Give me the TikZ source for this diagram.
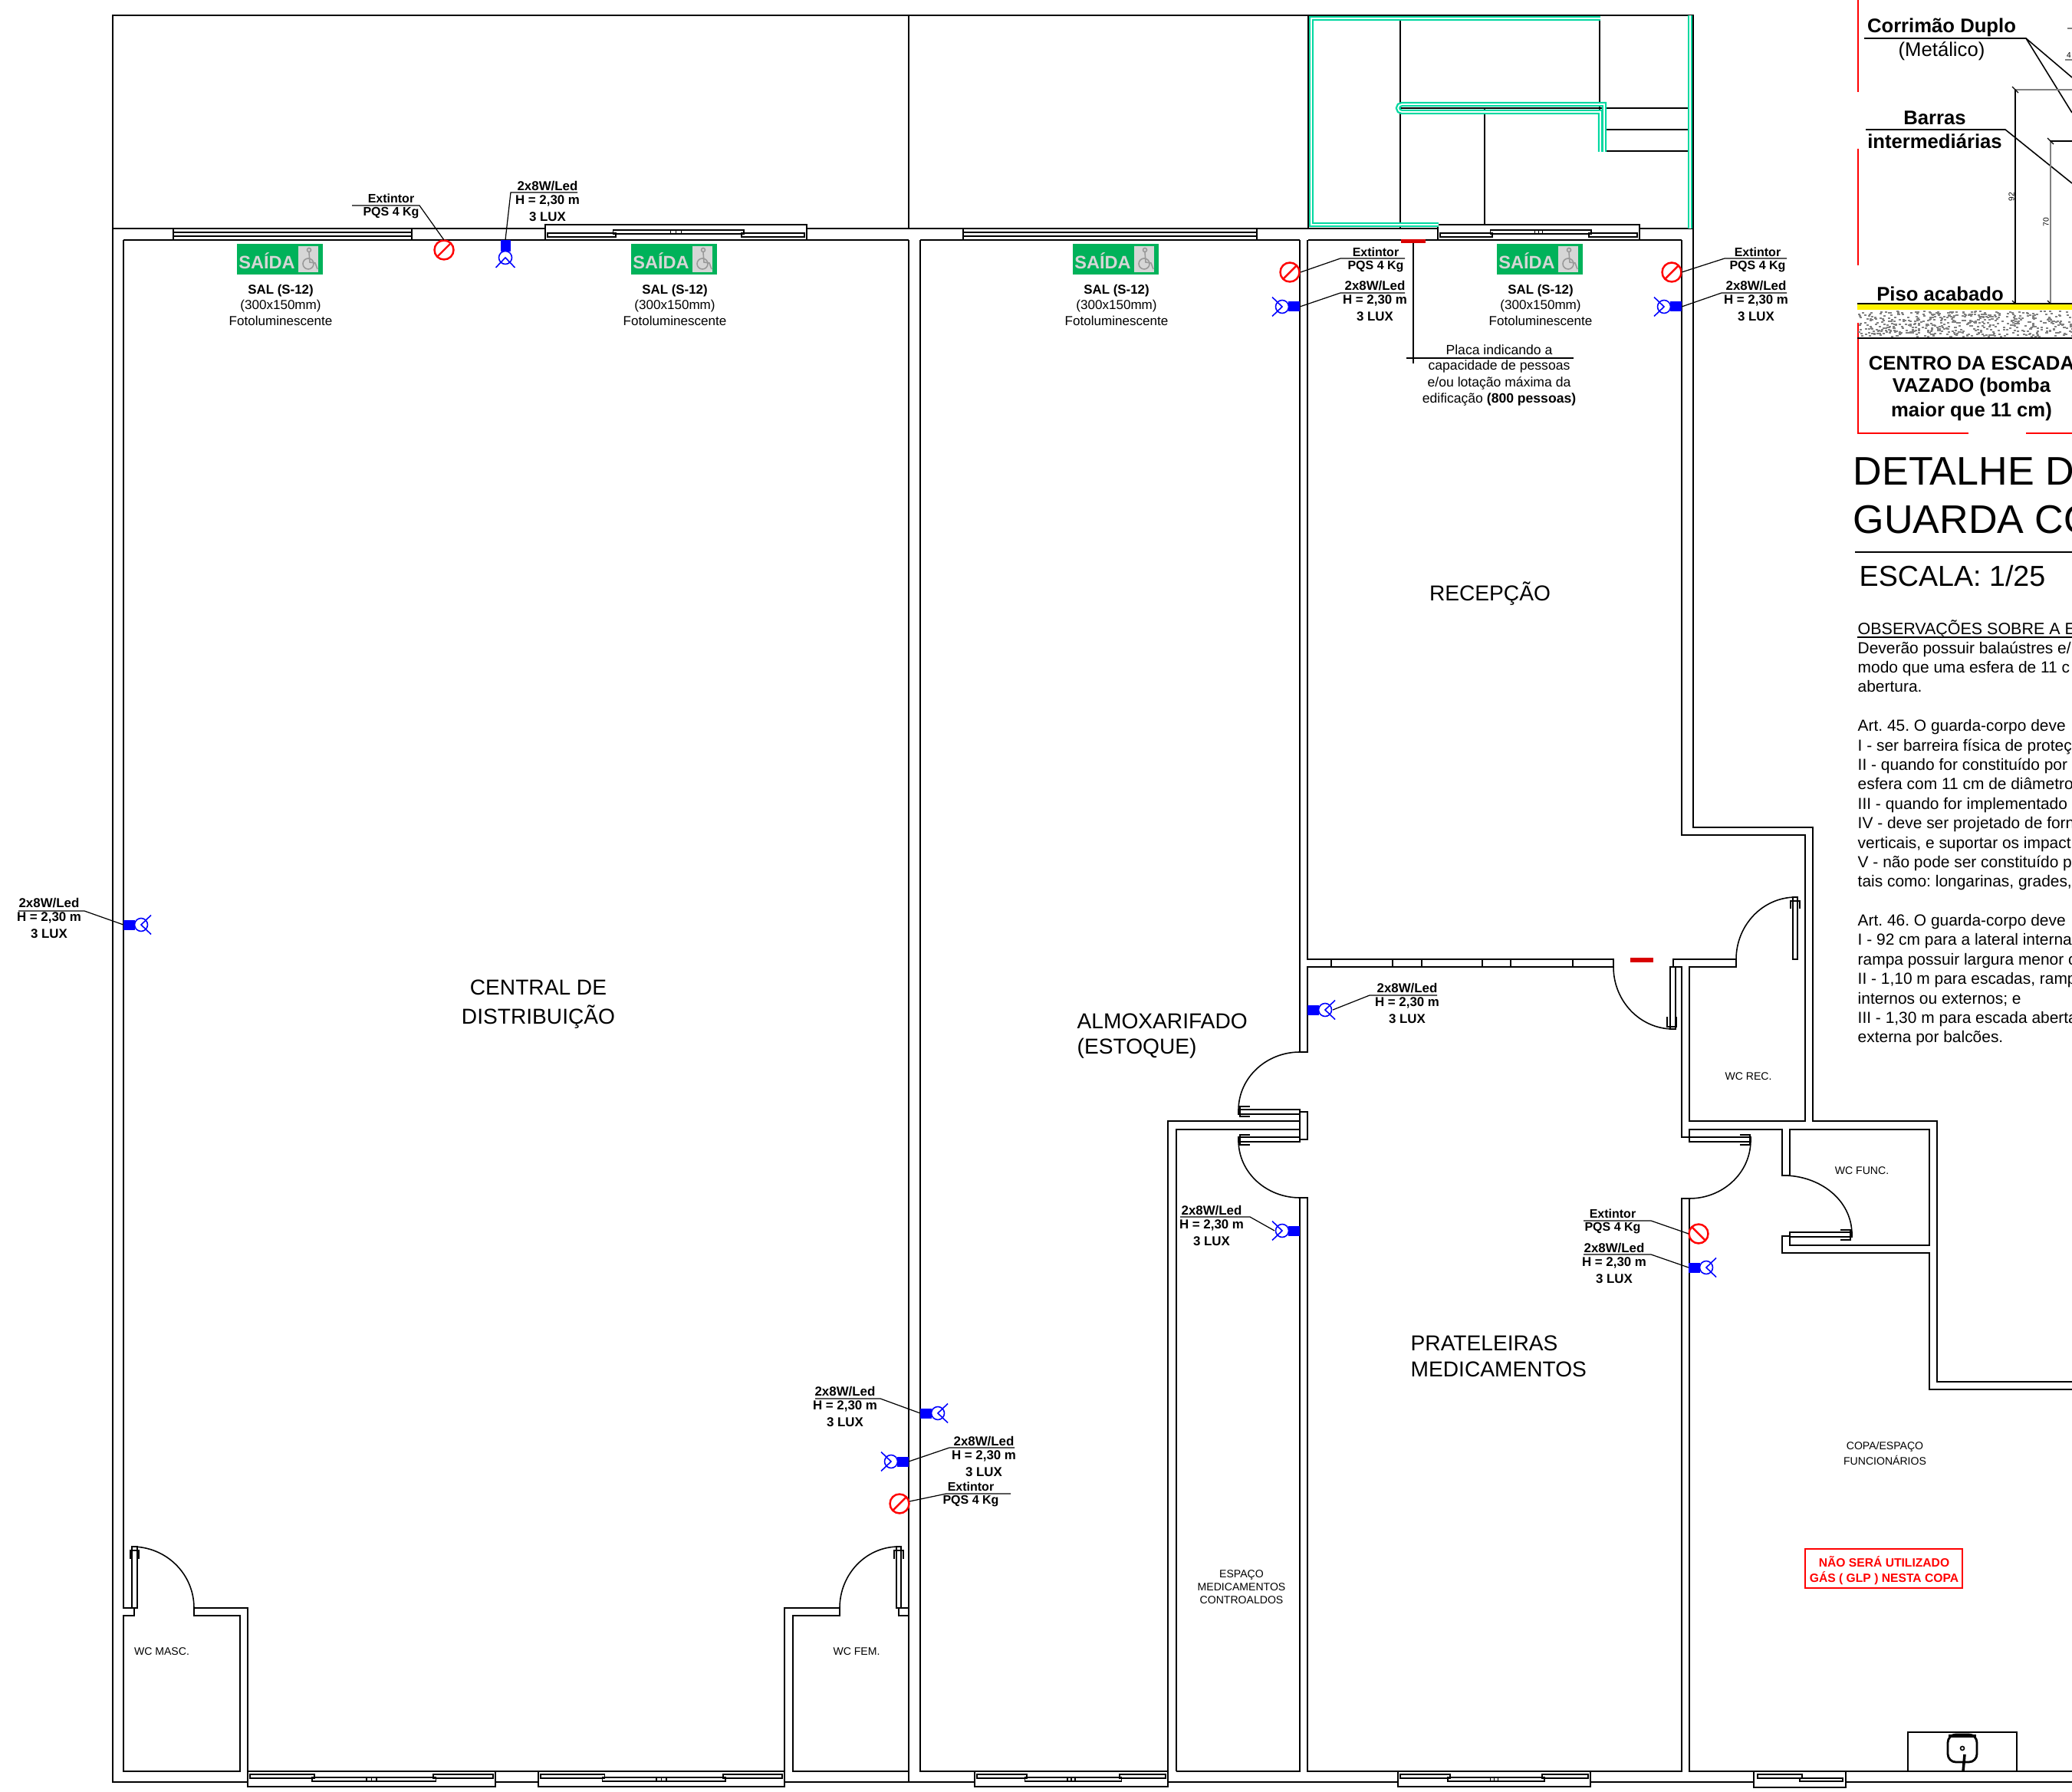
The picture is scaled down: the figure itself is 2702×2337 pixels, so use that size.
\documentclass[tikz,border=0pt]{standalone}
\usepackage{fontspec}
\setmainfont{Liberation Sans}
\definecolor{verdeguarda}{RGB}{0,216,160}
\definecolor{verdeplaca}{RGB}{0,178,90}
\definecolor{cinzaplaca}{RGB}{214,214,214}
\tikzset{
parede/.style={line width=0.8pt},
fino/.style={line width=0.45pt},
fio/.style={line width=0.35pt},
guarda/.style={draw=verdeguarda,double=white,line width=0.65pt,double distance=0.5pt},
rotulo/.style={inner sep=0pt,font=\fontsize{4.8pt}{5.8pt}\selectfont\bfseries},
rotext/.style={inner sep=0pt,font=\fontsize{4.55pt}{5.8pt}\selectfont\bfseries},
fino txt/.style={inner sep=0pt,font=\fontsize{4.85pt}{5.8pt}\selectfont},
placatxt/.style={inner sep=0pt,font=\fontsize{5pt}{6pt}\selectfont},
sala/.style={inner sep=0pt,font=\fontsize{8pt}{9pt}\selectfont},
wc/.style={inner sep=0pt,font=\fontsize{4pt}{5pt}\selectfont},
grande/.style={inner sep=0pt,font=\fontsize{7.3pt}{9pt}\selectfont\bfseries},
lampada/.pic={
  \fill[blue] (0,-6.5) rectangle (15,6.5);
  \draw[blue,fino] (23,0) circle [radius=8.5];
  \draw[blue,fino] (36,-12.5) -- (23,0) -- (36,12.5);
},
extintor/.pic={
  \draw[red,line width=0.7pt] (0,0) circle [radius=12.5];
  \draw[red,line width=0.7pt] (-9,9) -- (9,-9);
}
}
\newcommand{\correr}[4]{%
\begin{scope}[shift={(#1,#3)},yscale=#4]
\pgfmathsetmacro\wj{#2-#1}
\draw[parede] (0,0) -- (0,14) (\wj,0) -- (\wj,14);
\draw[fino] (0,14) -- (0,20) -- (\wj,20) -- (\wj,14);
\draw[fino] (3,4) rectangle (.27*\wj,9);
\draw[fino] (.26*\wj,8) rectangle (.76*\wj,13);
\draw[fino] (.75*\wj,4) rectangle (\wj-3,9);
\draw[fio] (.48*\wj,8) -- (.48*\wj,13) (.5*\wj,8) -- (.5*\wj,13) (.52*\wj,8) -- (.52*\wj,13);
\end{scope}}
\newcommand{\fixa}[2]{%
\draw[parede] (#1,298) -- (#1,313) (#2,298) -- (#2,313);
\draw[fino] (#1,303) -- (#2,303) (#1,308) -- (#2,308);}
\newcommand{\placa}[2]{%
\fill[verdeplaca] (#2-56,318) rectangle (#2+56,358);
\fill[cinzaplaca] (#2+24,321) rectangle (#2+50,355);
\draw[gray!80,fino] (#2+38,326) circle [radius=2.5];
\draw[gray!80,fino] (#2+38,329) -- (#2+39,342) -- (#2+46,343) -- (#2+49,351);
\draw[gray!80,fino] (#2+37,344) circle [radius=7];
\node[inner sep=0pt,text=cinzaplaca,font=\fontsize{6.7pt}{8pt}\selectfont\bfseries] (#1) at (#2-17,340) {SAÍDA};
\node[rotulo] (#1a) at (#2+1,379.5) {SAL (S-12)};
\node[fino txt] (#1b) at (#2+1,399.5) {(300x150mm)};
\node[fino txt] (#1c) at (#2+1,418.5) {Fotoluminescente};}
\newcommand{\luxo}[3]{%
\node[rotulo] (#1a) at (#2,#3+1) {2x8W/Led};
\node[rotulo] (#1b) at (#2,#3+20) {H = 2,30 m};
\node[rotulo] (#1c) at (#2,#3+41) {3 LUX};}
\newcommand{\ext}[3]{%
\node[rotext] (#1a) at (#2,#3) {Extintor};
\node[rotext] (#1b) at (#2,#3+19) {PQS 4 Kg};}

\begin{document}
\begin{tikzpicture}[x=0.01cm,y=-0.01cm]
\useasboundingbox (0,0) rectangle (2702,2337);
\clip (0,0) rectangle (2702,2337);
% paredes externas
\draw[parede] (2702,1802) -- (2526,1802) -- (2526,1462) -- (2364,1462) -- (2364,1079) -- (2208,1079) -- (2208,20) -- (147,20) -- (147,2324) -- (323,2324);
\draw[parede] (646,2324) -- (702,2324);
\draw[parede] (1023,2324) -- (1271,2324);
\draw[parede] (1523,2324) -- (1823,2324);
\draw[parede] (2074,2324) -- (2287,2324);
\draw[parede] (2407,2324) -- (2702,2324);
\draw[parede] (147,298) -- (711,298);
\draw[parede] (1052,298) -- (1875,298);
\draw[parede] (2138,298) -- (2208,298);
\draw[parede] (161,313) -- (1185,313);
\draw[parede] (1200,313) -- (1695,313);
\draw[parede] (1706,313) -- (2193,313);
\draw[parede] (1185,20) -- (1185,298);
\draw[parede] (1185,313) -- (1185,2324);
\draw[parede] (1200,313) -- (1200,2310) -- (1523,2310) -- (1523,1462) -- (1695,1462);
\draw[parede] (1534,2310) -- (1534,1473) -- (1695,1473);
\draw[parede] (1534,2310) -- (1695,2310) -- (1695,1562) -- (1705,1562) -- (1705,2310) -- (2193,2310) -- (2193,1563) -- (2203,1563) -- (2203,2310) -- (2702,2310);
\draw[parede] (161,313) -- (161,2097) -- (175,2097) -- (175,2107) -- (161,2107) -- (161,2310) -- (313,2310) -- (313,2107) -- (253,2107) -- (253,2097) -- (323,2097) -- (323,2310) -- (1023,2310) -- (1023,2097) -- (1095,2097) -- (1095,2107) -- (1034,2107) -- (1034,2310) -- (1185,2310);
\draw[parede] (1185,2097) -- (1172,2097) -- (1172,2107) -- (1185,2107);
\draw[parede] (1695,313) -- (1695,1372) -- (1705,1372) -- (1705,1261) -- (2104,1261) -- (2104,1251) -- (1705,1251) -- (1705,313);
\draw[parede] (1695,1450) rectangle (1705,1486);
\draw[fino] (1736,1251) -- (1736,1261) (1816,1251) -- (1816,1261) (1854,1251) -- (1854,1261) (1933,1251) -- (1933,1261) (1970,1251) -- (1970,1261) (2051,1251) -- (2051,1261);
\draw[parede] (2193,313) -- (2193,1089) -- (2354,1089) -- (2354,1462) -- (2203,1462) -- (2203,1261) -- (2264,1261) -- (2264,1251) -- (2182,1251) -- (2182,1261) -- (2193,1261) -- (2193,1483) -- (2203,1483) -- (2203,1473) -- (2324,1473) -- (2324,1533) -- (2334,1533) -- (2334,1473) -- (2516,1473) -- (2516,1624) -- (2334,1624) -- (2334,1612) -- (2324,1612) -- (2324,1634) -- (2516,1634) -- (2516,1812) -- (2702,1812);
% janelas
\fixa{226}{537}
\fixa{1256}{1639}
\correr{711}{1052}{313}{-1}
\correr{1875}{2138}{313}{-1}
\correr{323}{646}{2310}{1}
\correr{702}{1023}{2310}{1}
\correr{1271}{1523}{2310}{1}
\correr{1823}{2074}{2310}{1}
\draw[parede] (2287,2310) -- (2287,2324) (2407,2310) -- (2407,2324);
\draw[fino] (2287,2324) -- (2287,2331) -- (2407,2331) -- (2407,2324);
\draw[fino] (2292,2314) rectangle (2350,2319);
\draw[fino] (2347,2319) rectangle (2403,2323);
% portas
\draw[fino] (172,2017) rectangle (179,2097);
\draw[fino] (170,2033) -- (170,2022) -- (181,2022) -- (181,2033);
\draw[fino] (172,2017) to [out=0, in=90] (253,2097);
\draw[fino] (1169,2017) rectangle (1175,2097);
\draw[fino] (1166,2033) -- (1166,2022) -- (1178,2022) -- (1178,2033);
\draw[fino] (1172,2017) to [out=180, in=90] (1095,2097);
\draw[fino] (2178,1261) rectangle (2185,1342);
\draw[fino] (2174,1326) -- (2174,1339) -- (2186,1339) -- (2186,1326);
\draw[fino] (2104,1261) to [out=-90, in=180] (2182,1342);
\draw[fino] (2338,1170) rectangle (2344,1251);
\draw[fino] (2335,1185) -- (2335,1175) -- (2347,1175) -- (2347,1185);
\draw[fino] (2342,1170) to [out=180, in=90] (2264,1251);
\draw[fino] (1615,1447) rectangle (1695,1453);
\draw[fino] (1630,1443) -- (1617,1443) -- (1617,1456) -- (1630,1456);
\draw[fino] (1695,1372) to [out=180, in=90] (1615,1448);
\draw[fino] (1615,1483) rectangle (1695,1489);
\draw[fino] (1630,1480) -- (1617,1480) -- (1617,1493) -- (1630,1493);
\draw[fino] (1695,1562) to [out=180, in=-90] (1615,1487);
\draw[fino] (2203,1483) rectangle (2283,1489);
\draw[fino] (2269,1480) -- (2282,1480) -- (2282,1493) -- (2269,1493);
\draw[fino] (2203,1563) to [out=0, in=-90] (2283,1487);
\draw[fino] (2334,1607) rectangle (2415,1613);
\draw[fino] (2400,1604) -- (2413,1604) -- (2413,1617) -- (2400,1617);
\draw[fino] (2326,1533) to [out=0, in=90] (2415,1610);
% escada
\draw[parede] (1706,20) -- (1706,298);
\draw[parede] (1826,20) -- (1826,298);
\draw[parede] (2086,20) -- (2086,197);
\draw[parede] (1936,141) -- (1936,293);
\draw[parede] (1826,141) -- (2204,141);
\draw[parede] (2090,169) -- (2204,169);
\draw[fino] (2092,197) -- (2204,197);
\draw[guarda] (2087,24) -- (1710,24) -- (1710,293) -- (1876,293);
\draw[guarda] (2204,20) -- (2204,298);
\draw[guarda] (2087,198) -- (2087,146) -- (1828,146) arc (90:270:5) -- (2092,136) -- (2092,198);
% copa
\draw[fino] (2488,2310) -- (2488,2259) -- (2630,2259) -- (2630,2310);
\draw[parede,rounded corners=3] (2540,2262) rectangle (2578,2298);
\draw[line width=1.2pt] (2541,2264) -- (2577,2264);
\draw[fino] (2559,2280) circle [radius=2.5];
\draw[line width=1pt] (2562,2288) -- (2560,2310);
% placas
\placa{sa}{365}
\placa{sb}{879}
\placa{sc}{1455}
\placa{sd}{2008}
\fill[red!85!black] (1827,312) rectangle (1859,317);
\fill[red!85!black] (2126,1249) rectangle (2156,1255);
\coordinate (pl) at (1843,317);
\draw[fino] (pl) -- (1843,474);
\draw[fino] (1834,467) -- (2052,467);
\node[placatxt] (pa) at (1955,456.5) {Placa indicando a};
\node[placatxt] (pb) at (1955,478) {capacidade de pessoas};
\node[placatxt] (pc) at (1955,499.5) {e/ou lotação máxima da};
\node[placatxt] (pd) at (1955,521) {edificação \textbf{(800 pessoas)}};
% extintores
\pic at (579,326) {extintor};
\pic at (1682,355) {extintor};
\pic at (2180,355) {extintor};
\pic[rotate=-90] at (2215,1609) {extintor};
\pic at (1173,1961) {extintor};
\ext{ea}{510}{259}
\ext{eb}{1794}{329}
\ext{ec}{2292}{329}
\ext{ed}{2103}{1583}
\ext{ee}{1266}{1939}
\draw[fio] (579,313) -- (547,268) -- (459,268);
\draw[fio] (1696,355) -- (1748,337) -- (1832,337);
\draw[fio] (2193,355) -- (2249,337) -- (2330,337);
\draw[fio] (2202,1609) -- (2153,1592) -- (2065,1592);
\draw[fio] (1186,1958) -- (1234,1948) -- (1318,1948);
% luminarias
\coordinate (la) at (161,1206);
\coordinate (lb) at (659,313);
\coordinate (lc) at (1695,400);
\coordinate (ld) at (2193,400);
\coordinate (le) at (1705,1317);
\coordinate (lf) at (1695,1605);
\coordinate (lg) at (2202,1653);
\coordinate (lh) at (1200,1843);
\coordinate (li) at (1185,1906);
\pic at (la) {lampada};
\pic[rotate=-90] at (lb) {lampada};
\pic[rotate=180] at (lc) {lampada};
\pic[rotate=180] at (ld) {lampada};
\pic at (le) {lampada};
\pic[rotate=180] at (lf) {lampada};
\pic at (lg) {lampada};
\pic at (lh) {lampada};
\pic[rotate=180] at (li) {lampada};
\luxo{xa}{64}{1177}
\luxo{xb}{714}{242}
\luxo{xc}{1793}{372}
\luxo{xd}{2290}{372}
\luxo{xe}{1835}{1288}
\luxo{xf}{1580}{1578}
\luxo{xg}{2105}{1627}
\luxo{xh}{1102}{1814}
\luxo{xi}{1283}{1879}
\draw[fio] (la) -- (110,1188) -- (24,1188);
\draw[fio] (lb) -- (666,251) -- (753,251);
\draw[fio] (lc) -- (1748,382) -- (1832,382);
\draw[fio] (ld) -- (2245,382) -- (2330,382);
\draw[fio] (1738,1317) -- (1786,1298) -- (1874,1298);
\draw[fio] (1662,1605) -- (1630,1587) -- (1539,1587);
\draw[fio] (lg) -- (2153,1636) -- (2065,1636);
\draw[fio] (lh) -- (1148,1824) -- (1063,1824);
\draw[fio] (li) -- (1238,1888) -- (1323,1888);
% salas
\node[sala] (cd) at (702,1288) {CENTRAL DE};
\node[sala] (ds) at (702,1326) {DISTRIBUIÇÃO};
\node[sala] (rc) at (1943,774) {RECEPÇÃO};
\node[sala,anchor=west] (am) at (1404,1332) {ALMOXARIFADO};
\node[sala,anchor=west] (es) at (1404,1367) {(ESTOQUE)};
\node[sala,anchor=west] (pr) at (1839,1752) {PRATELEIRAS};
\node[sala,anchor=west] (me) at (1839,1786) {MEDICAMENTOS};
\node[wc] (wa) at (211,2154) {WC MASC.};
\node[wc] (wb) at (1117,2154) {WC FEM.};
\node[wc] (wr) at (2280,1404) {WC REC.};
\node[wc] (wf) at (2428,1527) {WC FUNC.};
\node[wc] (ea1) at (1619,2054) {ESPAÇO};
\node[wc] (ea2) at (1619,2070) {MEDICAMENTOS};
\node[wc] (ea3) at (1619,2087) {CONTROALDOS};
\node[wc] (co) at (2458,1887) {COPA/ESPAÇO};
\node[wc] (fu) at (2458,1904) {FUNCIONÁRIOS};
\draw[red,parede] (2354,2020) rectangle (2559,2071);
\node[rotulo,text=red,font=\fontsize{4.45pt}{5.5pt}\selectfont\bfseries] (na) at (2457,2037) {NÃO SERÁ UTILIZADO};
\node[rotulo,text=red,font=\fontsize{4.45pt}{5.5pt}\selectfont\bfseries] (nb) at (2457,2058) {GÁS ( GLP ) NESTA COPA};
% detalhe do guarda corpo
\draw[red,fino] (2423,0) -- (2423,120);
\draw[red,fino] (2423,194) -- (2423,346);
\draw[red,fino] (2423,421) -- (2423,565) -- (2567,565);
\draw[red,fino] (2642,565) -- (2702,565);
\node[grande] (cm) at (2532,36) {Corrimão Duplo};
\node[inner sep=0pt,font=\fontsize{7.3pt}{9pt}\selectfont] (mt) at (2532,67) {(Metálico)};
\draw[fino] (2431,50) -- (2642,50) -- (2702,101);
\draw[fino] (2642,50) -- (2702,147);
\node[grande] (ba) at (2523,154) {Barras};
\node[grande] (bi) at (2523,184) {intermediárias};
\draw[fino] (2433,169) -- (2615,169) -- (2702,239);
\draw[fio] (2628,396) -- (2628,117);
\draw[gray,fio] (2628,117) -- (2702,117);
\draw[fio] (2624,113) -- (2632,121) (2624,392) -- (2632,400);
\draw[gray,fino] (2674,396) -- (2674,184);
\draw[fio] (2674,184) -- (2702,184);
\draw[fio] (2670,180) -- (2678,188) (2670,392) -- (2678,400);
\node[inner sep=0pt,rotate=90,font=\fontsize{2.9pt}{3.5pt}\selectfont] (n92) at (2623,257) {92};
\node[inner sep=0pt,rotate=90,font=\fontsize{2.9pt}{3.5pt}\selectfont] (n70) at (2668,290) {70};
\node[inner sep=0pt,font=\fontsize{2.9pt}{3.5pt}\selectfont] (n4) at (2698,72) {4};
\draw[gray,fio] (2693,78) -- (2702,78);
\draw[gray,fio] (2696,37) -- (2702,37);
\node[grande] (pa1) at (2530,383) {Piso acabado};
\pgfmathsetseed{7}
\foreach \i in {1,...,520}{
\pgfmathsetmacro\px{2423+rnd*279}
\pgfmathsetmacro\py{405+rnd*33}
\fill[gray] (\px,\py) rectangle +(3,2);
}
\fill[yellow] (2422,397) rectangle (2702,404);
\draw[parede] (2422,396) -- (2702,396);
\draw[parede] (2422,441) -- (2702,441);
\node[grande] (ca) at (2571,474) {CENTRO DA ESCADA};
\node[grande] (cb) at (2571,505) {VAZADO (bomba};
\node[grande] (cc) at (2571,537) {maior que 11 cm)};
\node[inner sep=0pt,anchor=west,font=\fontsize{14.8pt}{17pt}\selectfont] (ta) at (2416,615) {DETALHE D};
\node[inner sep=0pt,anchor=west,font=\fontsize{14.8pt}{17pt}\selectfont] (tb) at (2416,678) {GUARDA CO};
\draw[fino] (2419,720) -- (2702,720);
\node[inner sep=0pt,anchor=west,font=\fontsize{10.7pt}{12pt}\selectfont] (te) at (2424,751) {ESCALA: 1/25};
\node[inner sep=0pt,anchor=west,font=\fontsize{6.1pt}{7pt}\selectfont] (ob) at (2422,820) {OBSERVAÇÕES SOBRE A E};
\draw[fino] (2422,831) -- (2702,831);
\node[inner sep=0pt,anchor=north west,align=left,font=\fontsize{5.95pt}{7.22pt}\selectfont\frenchspacing] (tx) at (2422,836) {Deverão possuir balaústres e/\\
modo que uma esfera de 11 c\\
abertura.\\
\\
Art. 45. O guarda-corpo deve\\
I - ser barreira física de proteç\\
II - quando for constituído por\\
esfera com 11 cm de diâmetro\\
III - quando for implementado\\
IV - deve ser projetado de forn\\
verticais, e suportar os impact\\
V - não pode ser constituído p\\
tais como: longarinas, grades,\\
\\
Art. 46. O guarda-corpo deve\\
I - 92 cm para a lateral interna\\
rampa possuir largura menor c\\
II - 1,10 m para escadas, ramp\\
internos ou externos; e\\
III - 1,30 m para escada aberta\\
externa por balcões.};
\end{tikzpicture}
\end{document}
